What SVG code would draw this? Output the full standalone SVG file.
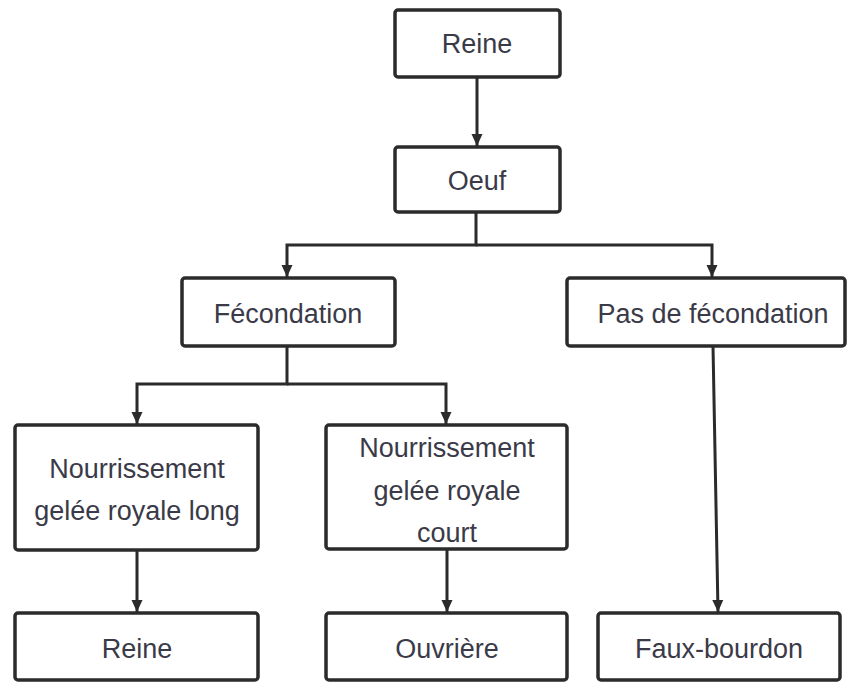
<svg xmlns="http://www.w3.org/2000/svg" width="849" height="684" viewBox="0 0 849 684">
<defs>
<marker id="arr" markerUnits="userSpaceOnUse" markerWidth="12" markerHeight="12" viewBox="0 0 12 12" refX="12" refY="6" orient="auto">
<path d="M0,0.5 L12,6 L0,11.5 Z" fill="#2b2b2b"/>
</marker>
<style>
.box{fill:#fff;stroke:#2b2b2b;stroke-width:3.5}
.lbl{font-family:"Liberation Sans",Arial,sans-serif;font-size:27px;fill:#3a3a48;text-anchor:middle}
.con{fill:none;stroke:#2b2b2b;stroke-width:3}
</style>
</defs>
<rect width="849" height="684" fill="#fff"/>
<g id="connectors">
<path class="con" d="M477,77 V146" marker-end="url(#arr)"/>
<path class="con" d="M476,212 V245 H287 V277" marker-end="url(#arr)"/>
<path class="con" d="M476,245 H712 V277" marker-end="url(#arr)"/>
<path class="con" d="M287,346 V384 H137 V424" marker-end="url(#arr)"/>
<path class="con" d="M287,384 H446 V424" marker-end="url(#arr)"/>
<path class="con" d="M137,550 V612" marker-end="url(#arr)"/>
<path class="con" d="M447,549 V612" marker-end="url(#arr)"/>
<path class="con" d="M713,346 L718,612" marker-end="url(#arr)"/>
</g>
<g id="reine-top">
<rect class="box" x="395" y="10" width="165" height="67" rx="3"/>
<text class="lbl" x="477" y="53">Reine</text>
</g>
<g id="oeuf">
<rect class="box" x="395" y="147" width="165" height="65" rx="3"/>
<text class="lbl" x="477" y="190">Oeuf</text>
</g>
<g id="fecondation">
<rect class="box" x="182" y="278" width="213" height="68" rx="3"/>
<text class="lbl" x="288" y="323">Fécondation</text>
</g>
<g id="pas-fecondation">
<rect class="box" x="567" y="278" width="278" height="68" rx="3"/>
<text class="lbl" x="713" y="323">Pas de fécondation</text>
</g>
<g id="nourrissement-long">
<rect class="box" x="15" y="425" width="243" height="125" rx="3"/>
<text class="lbl" x="137" y="478">Nourrissement</text>
<text class="lbl" x="137" y="520">gelée royale long</text>
</g>
<g id="nourrissement-court">
<rect class="box" x="326" y="425" width="241" height="124" rx="3"/>
<text class="lbl" x="447" y="457">Nourrissement</text>
<text class="lbl" x="447" y="500">gelée royale</text>
<text class="lbl" x="447" y="542">court</text>
</g>
<g id="reine-bottom">
<rect class="box" x="15" y="613" width="243" height="67" rx="3"/>
<text class="lbl" x="137" y="658">Reine</text>
</g>
<g id="ouvriere">
<rect class="box" x="326" y="613" width="241" height="67" rx="3"/>
<text class="lbl" x="447" y="658">Ouvrière</text>
</g>
<g id="faux-bourdon">
<rect class="box" x="598" y="613" width="242" height="67" rx="3"/>
<text class="lbl" x="719" y="658">Faux-bourdon</text>
</g>
</svg>
